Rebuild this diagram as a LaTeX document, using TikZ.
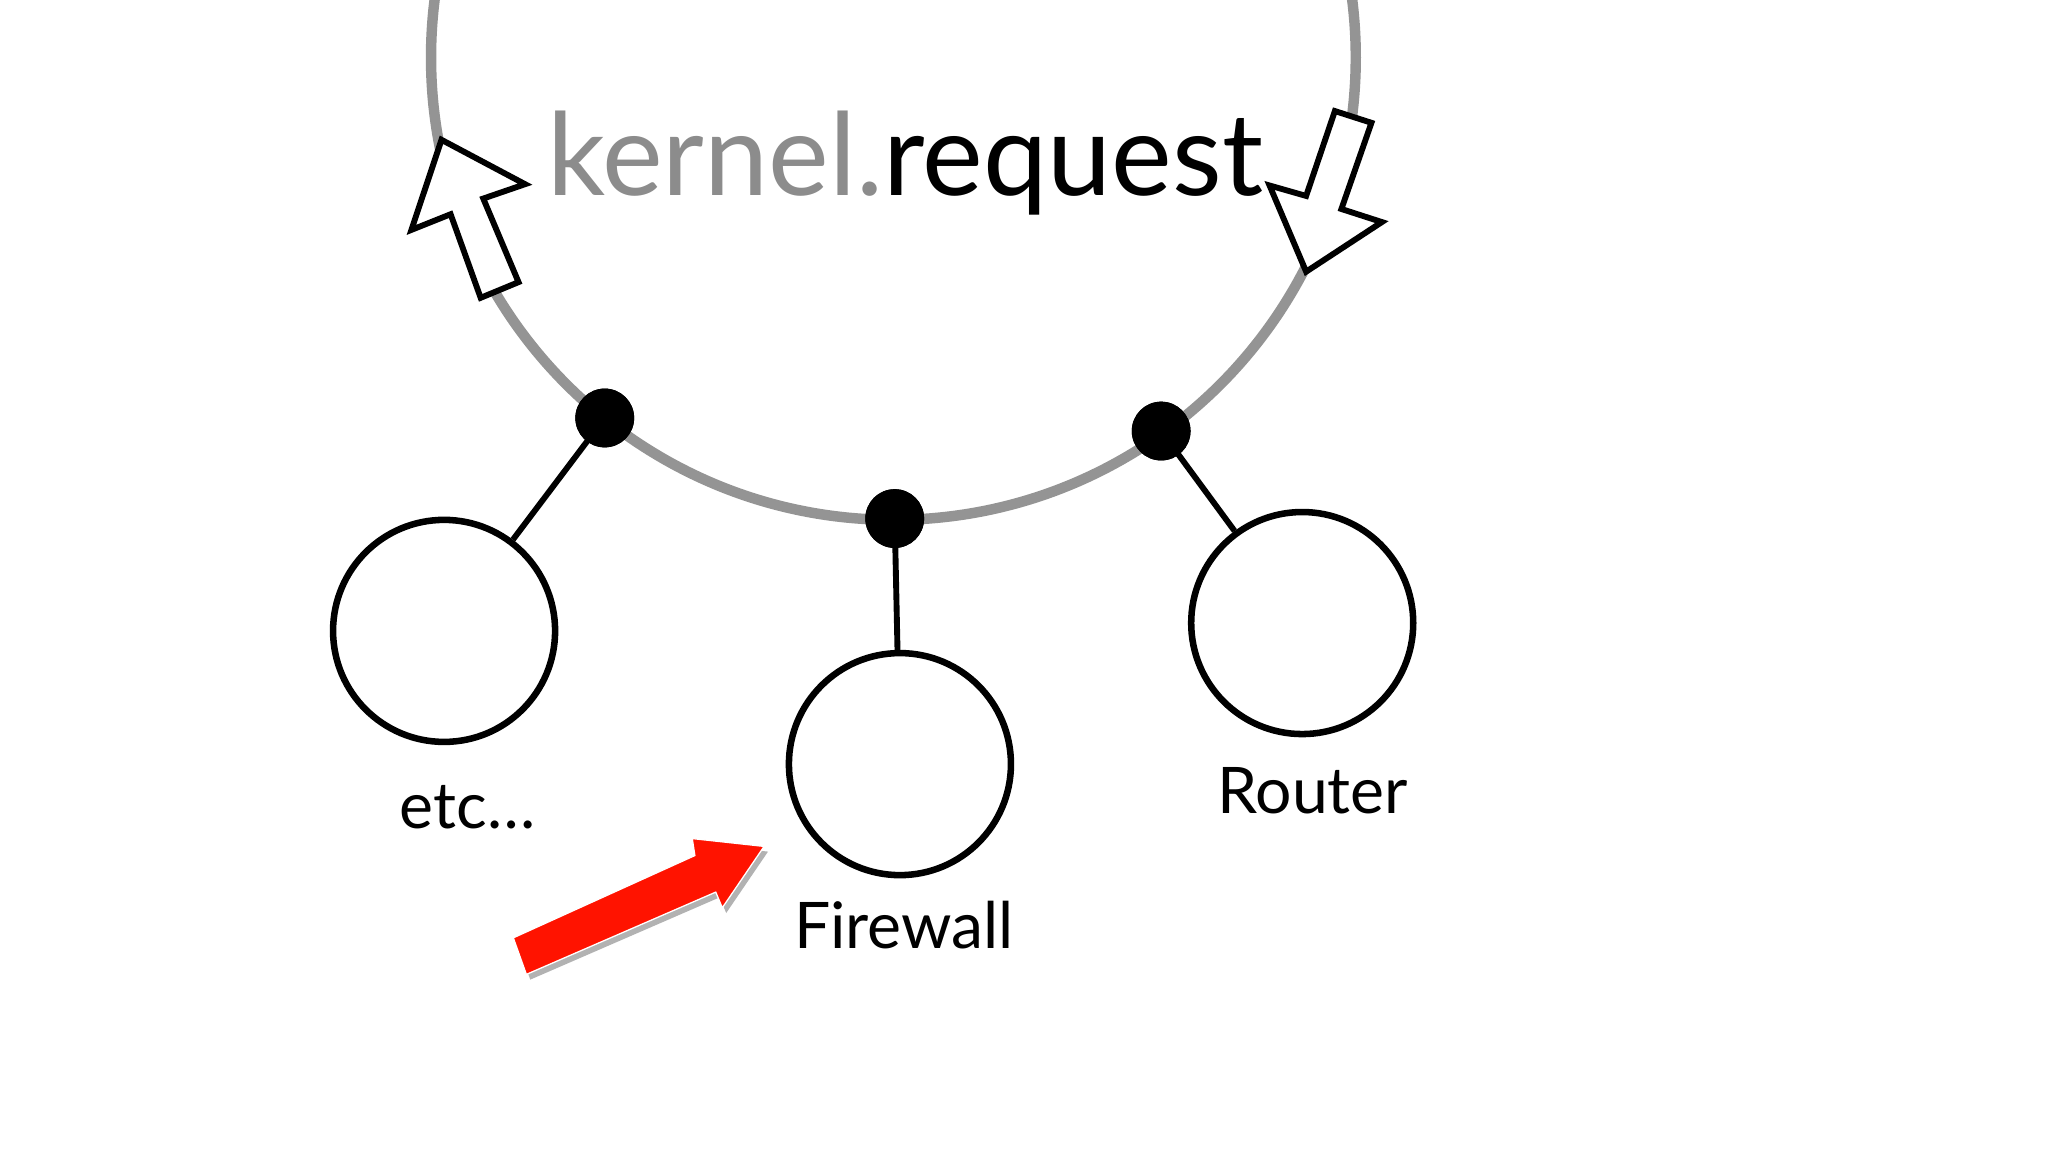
\documentclass[tikz,border=0pt]{standalone}
\usepackage{fontspec}
\setmainfont{Lato}
\begin{document}
\begin{tikzpicture}[x=1cm,y=-1cm,
  ring/.style={draw=black!42,line width=0.08cm},
  dot/.style={circle,fill=black,inner sep=0pt,minimum size=0.45cm},
  plug/.style={circle,draw=black,line width=0.05cm,minimum size=1.7cm,inner sep=0pt,fill=white},
  wire/.style={line width=0.045cm},
  hollow/.style={draw=black,fill=white,line width=0.045cm,line join=miter},
  lbl/.style={font=\fontsize{14}{16}\selectfont}]
\useasboundingbox (0,0) rectangle (15.68,8.82);
\clip (0,0) rectangle (15.68,8.82);
\fill[white] (0,0) rectangle (15.68,8.82);
\draw[ring] (6.84,0.44) circle (3.54);
\node[font=\fontsize{25}{28}\selectfont] (title) at (6.93,1.25) {\textcolor{black!45}{kernel.}request};
\draw[hollow] (3.68,2.28)--(3.97,2.16)--(3.70,1.52)--(4.02,1.41)--(3.38,1.07)--(3.15,1.76)--(3.45,1.64)--cycle;
\draw[hollow] (10.22,0.85)--(10.50,0.94)--(10.27,1.60)--(10.58,1.70)--(10.00,2.08)--(9.72,1.42)--(10.00,1.50)--cycle;
\node[dot] (d1) at (4.63,3.20) {};
\node[dot] (d2) at (6.85,3.97) {};
\node[dot] (d3) at (8.89,3.30) {};
\node[plug] (c1) at (3.40,4.83) {};
\node[plug] (c2) at (6.89,5.85) {};
\node[plug] (c3) at (9.97,4.77) {};
\draw[wire] (d1.center)--(c1);
\draw[wire] (d2.center)--(c2);
\draw[wire] (d3.center)--(c3);
\node[dot] at (d1) {};
\node[dot] at (d2) {};
\node[dot] at (d3) {};
\node[lbl] (l1) at (3.58,6.18) {etc\dots};
\node[lbl] (l2) at (6.92,7.08) {Firewall};
\node[lbl] (l3) at (10.05,6.05) {Router};
\fill[black!30] (3.96,7.22)--(5.35,6.59)--(5.33,6.46)--(5.88,6.52)--(5.56,6.99)--(5.51,6.87)--(4.06,7.50)--cycle;
\fill[red!85!orange,draw=white,line width=0.01cm] (3.93,7.18)--(5.32,6.55)--(5.30,6.42)--(5.85,6.48)--(5.53,6.95)--(5.48,6.83)--(4.03,7.46)--cycle;
\end{tikzpicture}
\end{document}
